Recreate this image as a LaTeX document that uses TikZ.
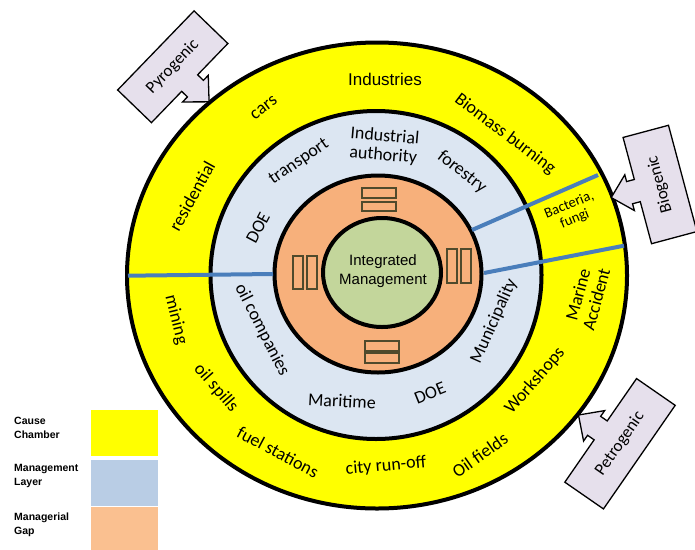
\documentclass[tikz,border=0pt]{standalone}
\usepackage{fontspec}
\setmainfont{Carlito}
\newfontfamily\arialfont{Liberation Sans}
\definecolor{causeyellow}{HTML}{FFFF00}
\definecolor{layerblue}{HTML}{DCE6F2}
\definecolor{legendblue}{HTML}{B9CDE5}
\definecolor{gaporange}{HTML}{F7B07B}
\definecolor{legendorange}{HTML}{FAC090}
\definecolor{coregreen}{HTML}{C3D69B}
\definecolor{dividerblue}{HTML}{4A7EBB}
\definecolor{calloutfill}{HTML}{E6E0EC}
\definecolor{boxolive}{HTML}{4F4A2C}

% callout: name, centre, angle, half length, side (1 or -1), text
\newcommand{\sourcecallout}[6]{%
  \begin{scope}[shift={#2}, rotate=#3, x=1pt, y=1pt]
    \begin{scope}[yscale=#5]
      \draw[calloutshape] (-#4,-23.5) -- (#4,-23.5) -- (#4,23.5) -- (11.5,23.5)
        -- (11.5,31.5) -- (18.5,31.5) -- (0,50.5) -- (-18.5,31.5) -- (-11.5,31.5)
        -- (-11.5,23.5) -- (-#4,23.5) -- cycle;
    \end{scope}
    \node[callouttext, rotate=#3] (#1) at (0,0) {#6};
  \end{scope}}

\begin{document}
\begin{tikzpicture}[x=1pt, y=-1pt,
  ring/.style={line width=4pt},
  divider/.style={draw=dividerblue, line width=4pt},
  ringlabel/.style={font=\fontsize{18}{19}\selectfont, inner sep=0pt, align=center},
  smalllabel/.style={font=\fontsize{14.5}{15}\selectfont, inner sep=0pt, align=center},
  tofu/.style={draw=boxolive, line width=1.5pt},
  calloutshape/.style={fill=calloutfill, draw=black, line width=1.3pt},
  callouttext/.style={font=\fontsize{17}{18}\selectfont, inner sep=0pt},
  legendbox/.style={minimum width=67pt, minimum height=46pt, inner sep=0pt},
  legendtext/.style={font=\arialfont\bfseries\fontsize{10.5}{14}\selectfont, align=left, anchor=west, inner sep=0pt}]
\useasboundingbox (0,0) rectangle (695,549);

% rings
\draw[ring, fill=causeyellow] (377,275.5) ellipse [x radius=250pt, y radius=233pt];
\draw[ring, fill=layerblue] (376,275) ellipse [x radius=165.5pt, y radius=164pt];
\draw[ring, fill=gaporange] (378,274) ellipse [x radius=103.5pt, y radius=98.5pt];
\draw[ring, fill=coregreen] (382,272.5) ellipse [x radius=59pt, y radius=54.5pt];

% cause chamber
\node[ringlabel, font=\arialfont\fontsize{17}{18}\selectfont] (industries) at (385,79) {Industries};
\node[ringlabel, rotate=37] (cars) at (264,108) {cars};
\node[ringlabel, rotate=-37] (biomass) at (505,134) {Biomass burning};
\node[ringlabel, rotate=61] (residential) at (192,196) {residential};
\node[smalllabel, rotate=22] (bacteria) at (572,212) {Bacteria,\\fungi};
\node[ringlabel, rotate=75] (marine) at (587,297) {Marine\\Accident};
\node[ringlabel, rotate=49] (workshops) at (535,381) {Workshops};
\node[ringlabel, rotate=35] (oilfields) at (480,455) {Oil fields};
\node[ringlabel, rotate=5] (runoff) at (386,466) {city run-off};
\node[ringlabel, rotate=-28] (fuel) at (278,452) {fuel stations};
\node[ringlabel, rotate=-49] (spills) at (216,388) {oil spills};
\node[ringlabel, rotate=-76] (mining) at (176,320) {mining};

% management layer
\node[ringlabel, rotate=-5] (authority) at (384,146) {Industrial\\authority};
\node[ringlabel, rotate=-38] (forestry) at (462,172) {forestry};
\node[ringlabel, rotate=34] (transport) at (299,162) {transport};
\node[ringlabel, rotate=62] (doeupper) at (258,228) {DOE};
\node[ringlabel, rotate=-63] (oilcomp) at (262,330) {oil companies};
\node[ringlabel, rotate=-3] (maritime) at (342,401) {Maritime};
\node[ringlabel, rotate=22] (doelower) at (430,393) {DOE};
\node[ringlabel, rotate=66] (municipality) at (494,321) {Municipality};

% managerial gap
\draw[tofu] (362,188) rectangle (396,198);
\draw[tofu] (362,202) rectangle (396,211);
\draw[tofu] (293,256) rectangle (303,289);
\draw[tofu] (307,256) rectangle (317,289);
\draw[tofu] (447,249) rectangle (457,283);
\draw[tofu] (461,249) rectangle (471,283);
\draw[tofu] (365,341) rectangle (399,351);
\draw[tofu] (365,353) rectangle (399,363);

% core
\node[font=\arialfont\fontsize{15}{19}\selectfont, align=center, inner sep=0pt] (core) at (383,271) {Integrated\\Management};

% dividers
\coordinate (outerW) at (128,275.7);
\coordinate (gapW) at (273,274);
\coordinate (outerNE) at (598,175);
\coordinate (gapNE) at (472,230);
\coordinate (outerE) at (624,245.7);
\coordinate (gapE) at (484,273);
\draw[divider] (outerW) -- (gapW);
\draw[divider] (gapNE) -- (outerNE);
\draw[divider] (gapE) -- (outerE);

% sources
\sourcecallout{pyro}{(172.75,66.75)}{46}{55}{-1}{Pyrogenic}
\sourcecallout{bio}{(660,184.5)}{105}{55}{1}{Biogenic}
\sourcecallout{petro}{(620,443.75)}{55.3}{63}{1}{Petrogenic}

% legend
\node[legendbox, fill=causeyellow] (causebox) at (124.5,433) {};
\node[legendbox, fill=legendblue] (layerbox) at (124.5,483) {};
\node[legendbox, fill=legendorange] (gapbox) at (124.5,530) {};
\node[legendtext] (causetext) at (14,428) {Cause\\Chamber};
\node[legendtext] (layertext) at (14,476) {Management\\Layer};
\node[legendtext] (gaptext) at (14,525) {Managerial\\Gap};
\end{tikzpicture}
\end{document}
